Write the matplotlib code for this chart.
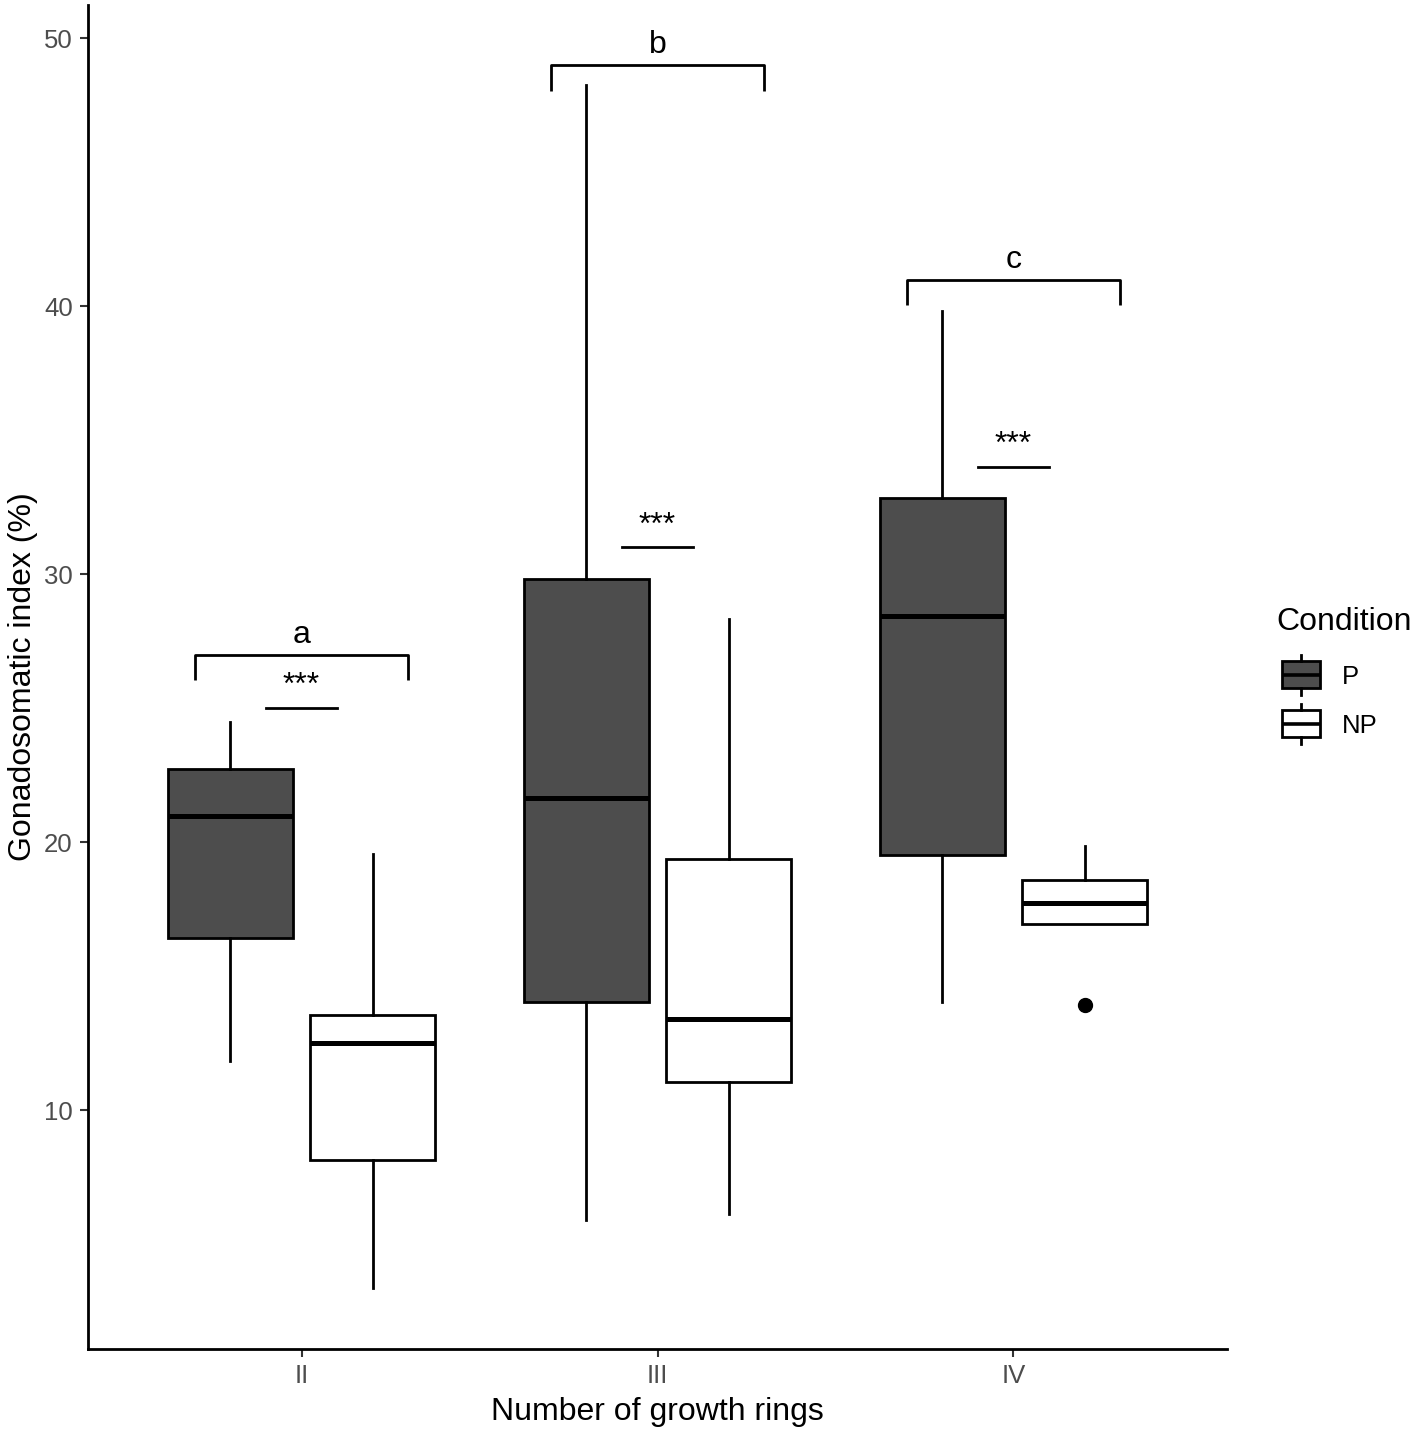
import matplotlib
matplotlib.use("Agg")
import matplotlib.pyplot as plt

plt.rcParams['font.family'] = ['Liberation Sans', 'DejaVu Sans']

# ---- data ----
groups = ["II", "III", "IV"]
conditions = ["P", "NP"]
p_whislo = [11.83, 5.9, 14.03]
p_q1 = [16.42, 14.03, 19.51]
p_med = [20.97, 21.64, 28.43]
p_q3 = [22.72, 29.81, 32.84]
p_whishi = [24.48, 48.25, 39.81]
p_fliers = [[], [], []]
np_whislo = [3.36, 6.12, 16.94]
np_q1 = [8.13, 11.04, 16.94]
np_med = [12.5, 13.4, 17.72]
np_q3 = [13.54, 19.37, 18.58]
np_whishi = [19.55, 28.32, 19.85]
np_fliers = [[], [], [13.92]]
letters = ["a", "b", "c"]
letter_y = [27.0, 49.0, 41.0]
star_y = [25.0, 31.0, 34.0]
star_text = ["***", "***", "***"]

dark = "#4D4D4D"
W, H = 1417, 1430
fig = plt.figure(figsize=(W / 100, H / 100), dpi=100)
ax = fig.add_axes([88 / W, 81 / H, (1227 - 88) / W, (1349 - 5) / H])

xpos = [1, 2, 3]
off = 0.2
w = 0.35
lw = 2.0

def stats(lo, q1, med, q3, hi, fl):
    return [dict(whislo=a, q1=b, med=c, q3=d, whishi=e, fliers=f)
            for a, b, c, d, e, f in zip(lo, q1, med, q3, hi, fl)]

common = dict(widths=w, patch_artist=True, showcaps=False,
              whiskerprops=dict(color="black", linewidth=lw),
              medianprops=dict(color="black", linewidth=3.6, solid_capstyle='butt'),
              flierprops=dict(marker='o', markerfacecolor='black', markeredgecolor='black', markersize=10))

ax.bxp(stats(p_whislo, p_q1, p_med, p_q3, p_whishi, p_fliers),
       positions=[x - off for x in xpos],
       boxprops=dict(facecolor=dark, edgecolor="black", linewidth=lw), **common)
ax.bxp(stats(np_whislo, np_q1, np_med, np_q3, np_whishi, np_fliers),
       positions=[x + off for x in xpos],
       boxprops=dict(facecolor="white", edgecolor="black", linewidth=lw), **common)

# significance brackets
for x, ly, lt in zip(xpos, letter_y, letters):
    ax.plot([x - 0.3, x - 0.3, x + 0.3, x + 0.3], [ly - 0.95, ly, ly, ly - 0.95],
            color="black", linewidth=lw, solid_capstyle='butt')
    ax.text(x, ly + 0.45, lt, ha='center', va='baseline', fontsize=23)
for x, sy, st in zip(xpos, star_y, star_text):
    ax.plot([x - 0.1, x + 0.1], [sy, sy], color="black", linewidth=lw)
    ax.text(x, sy + 0.52, st, ha='center', va='baseline', fontsize=23)

ax.set_xlim(0.4, 3.6)
ax.set_ylim(1.08, 51.25)
ax.set_xticks(xpos)
ax.set_xticklabels(groups)
ax.set_yticks([10, 20, 30, 40, 50])
ax.tick_params(axis='both', labelsize=18.5, labelcolor="#4D4D4D", color='#333333',
               length=6, width=1.5, pad=5)
for s in ['top', 'right']:
    ax.spines[s].set_visible(False)
for s in ['left', 'bottom']:
    ax.spines[s].set_linewidth(lw)
ax.set_xlabel("Number of growth rings", fontsize=23, labelpad=6)
ax.set_ylabel("Gonadosomatic index (%)", fontsize=23, labelpad=4)

# ---- legend (drawn in pixel coordinates of an overlay axes) ----
lax = fig.add_axes([0, 0, 1, 1], facecolor='none')
lax.set_xlim(0, W)
lax.set_ylim(H, 0)
lax.axis('off')
lax.text(1276, 630, "Condition", fontsize=23, ha='left', va='baseline')
key_tops = [661, 710]
fills = [dark, "white"]
for top, fc, lab in zip(key_tops, fills, conditions):
    x0, x1 = 1282, 1320
    bh = 27
    lax.add_patch(plt.Rectangle((x0, top), x1 - x0, bh, facecolor=fc, edgecolor='black', lw=lw))
    lax.plot([x0, x1], [top + bh / 2] * 2, color='black', lw=2.6, solid_capstyle='butt')
    xc = (x0 + x1) / 2
    lax.plot([xc, xc], [top - 6, top], color='black', lw=lw)
    lax.plot([xc, xc], [top + bh, top + bh + 7], color='black', lw=lw)
    lax.text(1342, top + bh / 2, lab, fontsize=18.5, ha='left', va='center_baseline')

fig.savefig("out.png", dpi=100)
